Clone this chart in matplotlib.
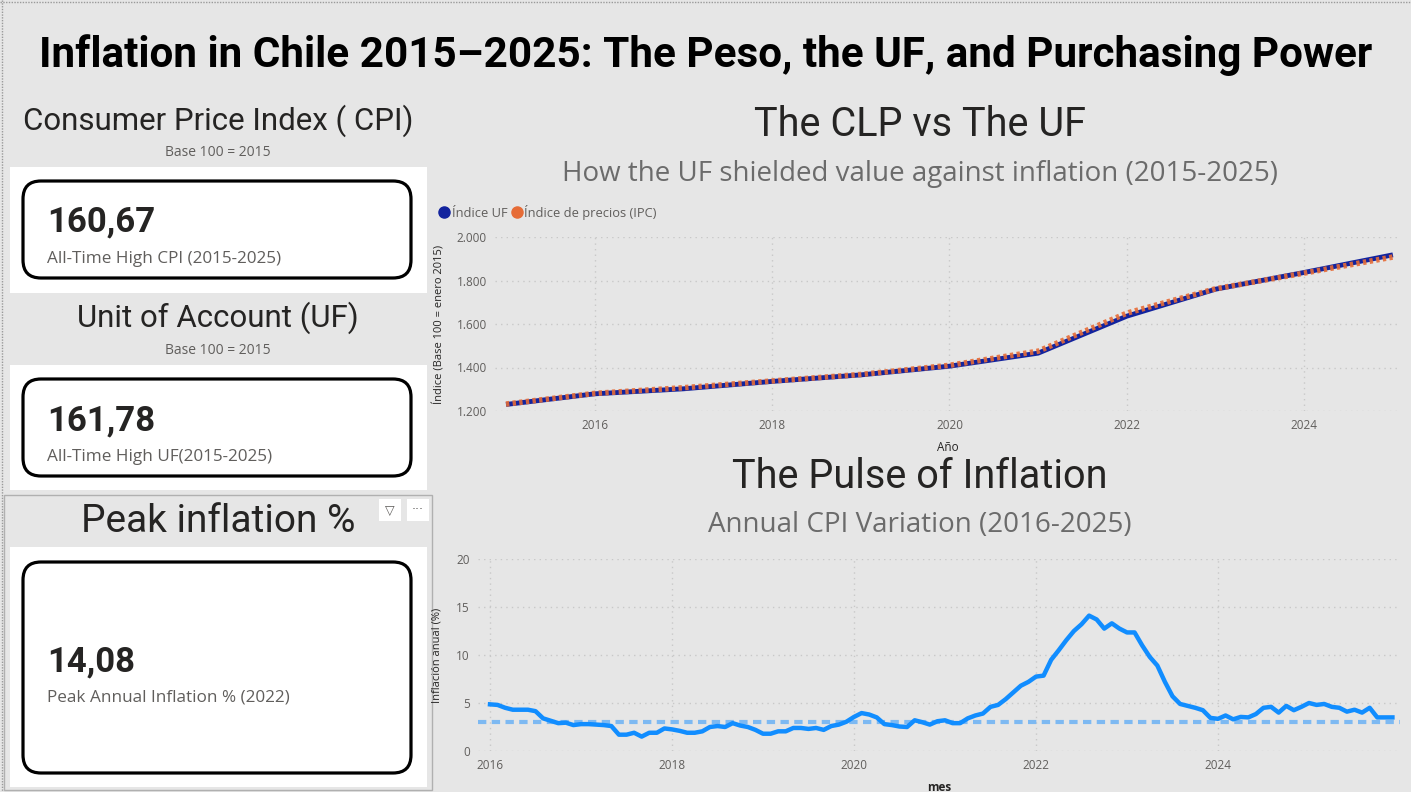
import matplotlib.pyplot as plt
import numpy as np
from matplotlib.patches import FancyBboxPatch, Rectangle
from matplotlib.lines import Line2D
from matplotlib.ticker import FuncFormatter

# ---- data ----
years = [2015, 2016, 2017, 2018, 2019, 2020, 2021, 2022, 2023, 2024, 2025]
indice_uf = [1230, 1279, 1302, 1336, 1366, 1406, 1466, 1636, 1760, 1837, 1918]
indice_ipc = [1232, 1281, 1307, 1338, 1368, 1410, 1475, 1650, 1762, 1834, 1908]

# annual CPI variation, monthly Jan 2016 - Dec 2025
inflacion = [
    4.86, 4.8, 4.5, 4.3, 4.3, 4.3, 4.15, 3.4, 3.15, 2.9, 2.95, 2.7,      # 2016
    2.8, 2.8, 2.75, 2.7, 2.6, 1.7, 1.7, 1.9, 1.5, 1.9, 1.9, 2.35,        # 2017
    2.25, 2.1, 1.9, 1.9, 2.05, 2.5, 2.6, 2.5, 2.9, 2.65, 2.5, 2.2,       # 2018
    1.8, 1.8, 2.05, 2.05, 2.4, 2.4, 2.3, 2.4, 2.2, 2.6, 2.75, 3.05,      # 2019
    3.55, 3.95, 3.8, 3.5, 2.8, 2.7, 2.55, 2.5, 3.2, 3.0, 2.75, 3.1,      # 2020
    3.2, 2.9, 2.9, 3.4, 3.7, 3.9, 4.6, 4.8, 5.4, 6.1, 6.8, 7.2,          # 2021
    7.75, 7.85, 9.5, 10.5, 11.55, 12.5, 13.2, 14.1, 13.7, 12.75, 13.3, 12.75,  # 2022
    12.35, 12.35, 11.0, 9.8, 8.9, 7.2, 5.7, 4.9, 4.7, 4.5, 4.25, 3.45,   # 2023
    3.35, 3.7, 3.3, 3.55, 3.5, 3.85, 4.5, 4.6, 4.0, 4.7, 4.25, 4.6,      # 2024
    5.0, 4.8, 4.9, 4.6, 4.5, 4.1, 4.3, 4.0, 4.5, 3.5, 3.5, 3.5,          # 2025
]
meta = 3.0

kpi_cpi = "160,67"
kpi_uf = "161,78"
kpi_peak = "14,08"

# ---- figure ----
W, H = 1411, 792
BG = "#E6E6E6"
DARK = "#252423"
GREY = "#605E5C"
HEAD = ['Roboto', 'DejaVu Sans']

plt.rcParams['font.family'] = ['Open Sans', 'DejaVu Sans']

fig = plt.figure(figsize=(W / 100, H / 100), dpi=100, facecolor=BG)


def rect(x0, y0, x1, y1):
    return [x0 / W, 1 - y1 / H, (x1 - x0) / W, (y1 - y0) / H]


# overlay in pixel coordinates for cards and titles
bg = fig.add_axes([0, 0, 1, 1])
bg.set_xlim(0, W)
bg.set_ylim(H, 0)
bg.axis('off')

# canvas dotted edges
bg.plot([1.5, 1.5], [0, H], color="#9A9A9A", lw=1, ls=(0, (1, 1)))
bg.plot([0, W], [1.5, 1.5], color="#9A9A9A", lw=1, ls=(0, (1, 1)))

bg.text(W / 2, 55, "Inflation in Chile 2015–2025: The Peso, the UF, and Purchasing Power",
        ha='center', va='center', fontsize=30.4, fontweight='bold', color='black',
        family=HEAD)

# left cards
cards = [
    ("Consumer Price Index ( CPI)", 121, "Base 100 = 2015", 153, 167, 293, 181, 278,
     kpi_cpi, 222, "All-Time High CPI (2015-2025)", 259),
    ("Unit of Account (UF)", 318, "Base 100 = 2015", 350, 365, 490, 379, 476,
     kpi_uf, 421, "All-Time High UF(2015-2025)", 457),
    ("Peak inflation %", 521, None, None, 547, 787, 562, 773,
     kpi_peak, 662, "Peak Annual Inflation % (2022)", 698),
]
for (head, hy, sub, sy, p0, p1, b0, b1, val, vy, lab, ly) in cards:
    fs = 28 if head.startswith("Peak") else 22.5
    bg.text(218, hy, head, ha='center', va='center', fontsize=fs, color=DARK,
            family=HEAD)
    if sub:
        bg.text(218, sy, sub, ha='center', va='center', fontsize=10, color=GREY)
    bg.add_patch(Rectangle((10, p0), 417, p1 - p0, facecolor='white', edgecolor='none'))
    bg.add_patch(FancyBboxPatch((23 + 18, b0 + 18), 388 - 36, b1 - b0 - 36,
                                boxstyle="round,pad=18", facecolor='white',
                                edgecolor='black', lw=2.3))
    bg.text(47, vy, val, ha='left', va='center', fontsize=25, fontweight='bold',
            color=DARK, family=HEAD)
    bg.text(47, ly, lab, ha='left', va='center', fontsize=12.3, color=GREY)

# selected visual frame with header icons
bg.add_patch(Rectangle((4, 495), 428, 295, facecolor='none', edgecolor='#B0B0B0', lw=1))
for cx, s in [(390, "▽"), (418, "···")]:
    bg.add_patch(Rectangle((cx - 11, 499), 22, 22, facecolor='white', edgecolor='none'))
    bg.text(cx, 510, s, ha='center', va='center', fontsize=9, color=GREY,
            family=['DejaVu Sans'])

# chart titles
bg.text(920, 125, "The CLP vs The UF", ha='center', va='center', fontsize=28.5, color=DARK,
        family=HEAD)
bg.text(920, 174, "How the UF shielded value against inflation (2015-2025)", ha='center',
        va='center', fontsize=20, color="#6B6B6B")
bg.text(920, 477, "The Pulse of Inflation", ha='center', va='center', fontsize=28.5,
        color=DARK, family=HEAD)
bg.text(920, 525, "Annual CPI Variation (2016-2025)", ha='center', va='center', fontsize=20,
        color="#6B6B6B")


def style(ax):
    ax.set_facecolor('none')
    for s in ax.spines.values():
        s.set_visible(False)
    ax.tick_params(length=0, labelsize=8.5, labelcolor=GREY, pad=6)
    ax.grid(True, color='#C8C8C8', ls=(0, (1, 3)), lw=1)
    ax.set_axisbelow(True)


# ---- top chart ----
ax1 = fig.add_axes(rect(495, 237, 1400, 411))
style(ax1)
ax1.plot(years, indice_uf, color='#12239E', lw=3.5, solid_capstyle='butt')
ax1.plot(years, indice_ipc, color='#E66C37', lw=4, ls=(0, (0.6, 0.6)), alpha=0.9)
ax1.set_xlim(2014.876, 2025.08)
ax1.set_ylim(1200, 2000)
ax1.set_xticks([2016, 2018, 2020, 2022, 2024])
ax1.set_yticks([1200, 1400, 1600, 1800, 2000])
ax1.yaxis.set_major_formatter(FuncFormatter(lambda v, p: f"{v:,.0f}".replace(",", ".")))
ax1.set_xlabel("Año", fontsize=8.5, color=DARK, labelpad=6)
ax1.set_ylabel("Índice (Base 100 = enero 2015)", fontsize=8, color=DARK, labelpad=8)
handles = [Line2D([], [], marker='o', ls='none', color='#12239E', markersize=8),
           Line2D([], [], marker='o', ls='none', color='#E66C37', markersize=8)]
ax1.legend(handles, ["Índice UF", "Índice de precios (IPC)"], loc='lower left',
           bbox_to_anchor=(-0.068, 1.07), ncol=2, frameon=False, fontsize=9.3,
           labelcolor=GREY, handletextpad=0.1, columnspacing=0.3, borderaxespad=0,
           handlelength=0.9)

# ---- bottom chart ----
meses = 2016 + np.arange(len(inflacion)) / 12
ax2 = fig.add_axes(rect(478, 559, 1400, 751))
style(ax2)
ax2.axhline(meta, color='#7DB9F2', lw=3, ls=(0, (2, 1.3)))
ax2.plot(meses, inflacion, color='#118DFF', lw=3.2)
ax2.set_xlim(2015.868, 2026.0)
ax2.set_ylim(0, 20)
ax2.set_xticks([2016, 2018, 2020, 2022, 2024])
ax2.set_yticks([0, 5, 10, 15, 20])
ax2.set_xlabel("mes", fontsize=8.5, color=DARK, labelpad=6, fontweight='bold')
ax2.set_ylabel("Inflación anual (%)", fontsize=8, color=DARK, labelpad=10)

fig.savefig("out.png", dpi=100, facecolor=BG)
